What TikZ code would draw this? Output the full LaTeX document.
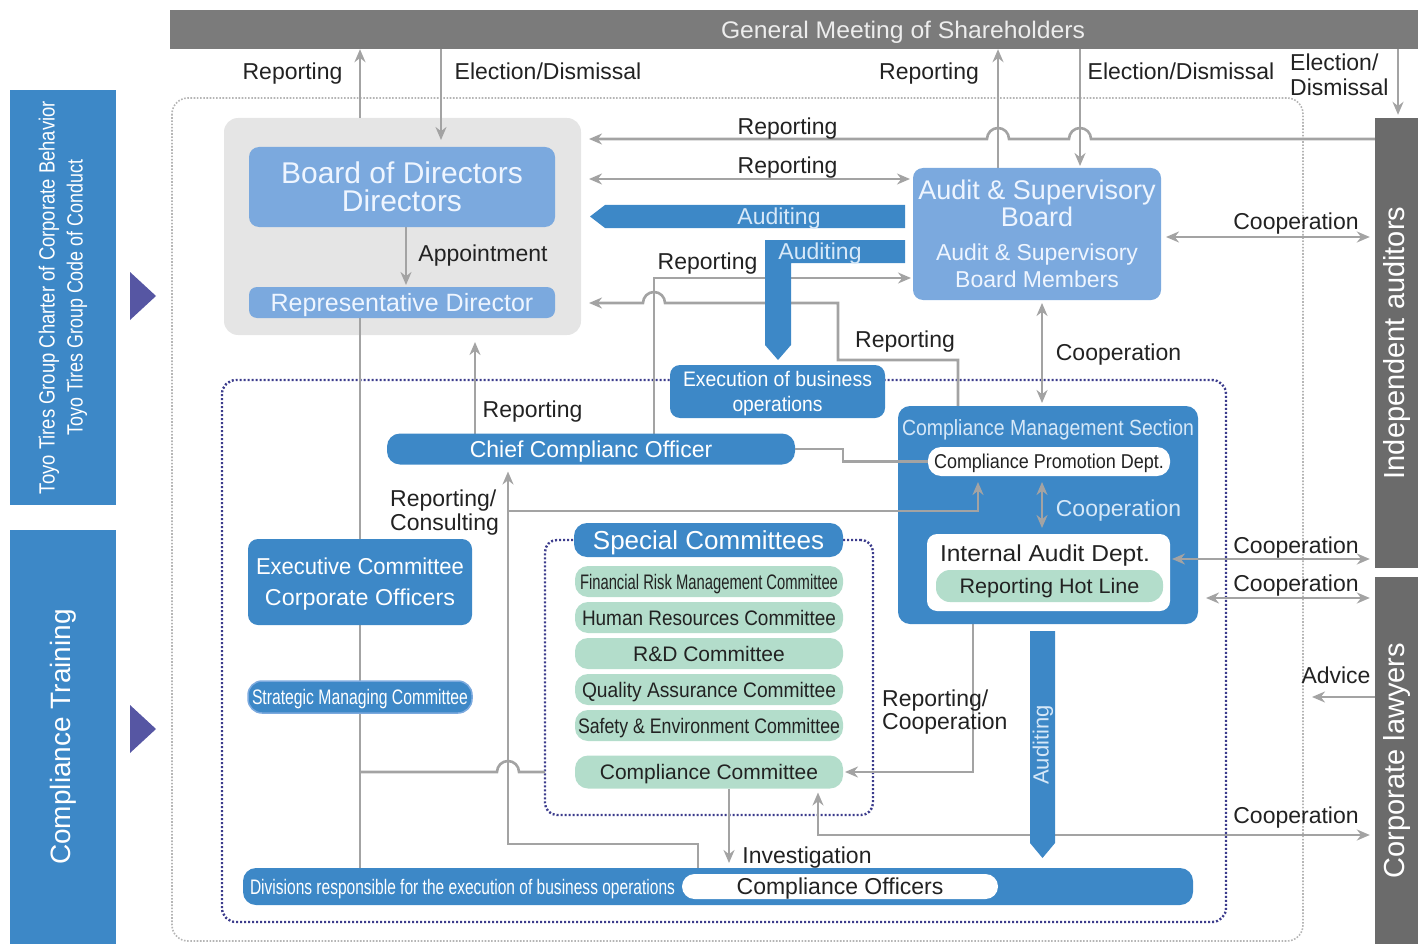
\documentclass[tikz,border=0pt]{standalone}
\usepackage{fontspec}
\setmainfont{Liberation Sans}
\usepackage{graphicx}
\usetikzlibrary{arrows.meta,calc}
\definecolor{mblue}{HTML}{3D88C7}
\definecolor{lblue}{HTML}{7BA9DE}
\definecolor{ltxt}{HTML}{EEF5FF}
\definecolor{atxt}{HTML}{D6E8F8}
\definecolor{grp}{HTML}{E5E5E5}
\definecolor{topg}{HTML}{7B7B7B}
\definecolor{sideg}{HTML}{6B6B6B}
\definecolor{mgreen}{HTML}{B3DDCB}
\definecolor{agray}{HTML}{A3A3A3}
\definecolor{navy}{HTML}{3C3C8C}
\definecolor{trico}{HTML}{5656A3}
\definecolor{txt}{HTML}{222222}
\definecolor{dotg}{HTML}{B5B5B5}
\newcommand{\cw}[2]{\resizebox{#1pt}{\height}{#2}}
\newcommand{\fs}[2]{\fontsize{#1}{#2}\selectfont}
\pgfdeclarelayer{bg}
\pgfdeclarelayer{lines}
\pgfsetlayers{bg,lines,main}
\tikzset{
  box/.style={rectangle,rounded corners=#1,inner sep=0pt,outer sep=0pt},
  box/.default=10pt,
  bluebox/.style={box,fill=mblue,text=white},
  lbox/.style={box,fill=lblue,text=ltxt},
  gbox/.style={box=13pt,fill=mgreen,text=txt,minimum width=268pt,minimum height=31pt,font=\fs{21}{24}},
  lbl/.style={text=txt,font=\fs{23}{25},inner sep=0pt},
  gl/.style={draw=agray,line width=2.6pt},
  ar/.style={gl,-{Stealth[length=13pt,width=11pt]}},
  dar/.style={gl,{Stealth[length=13pt,width=11pt]}-{Stealth[length=13pt,width=11pt]}},
  navydot/.style={draw=navy,line width=2.4pt,dash pattern=on 2pt off 2pt},
}
\begin{document}
\begin{tikzpicture}[x=1pt,y=-1pt,every node/.style={text depth=0pt}]
\useasboundingbox (0,0) rectangle (1418,944);
% helper coordinates
\foreach \xx in {360,406,441,475,508,654,698,729,818,838,843,958,973,978,998,1042,1080,1398}{\coordinate (X\xx) at (\xx,0);}
\foreach \yy in {139,179,237,278,303,360,511,559,598,772,835,844}{\coordinate (Y\yy) at (0,\yy);}

% ---------- background layer ----------
\begin{pgfonlayer}{bg}
\draw[dotg,line width=1.6pt,dash pattern=on 1.6pt off 1.6pt,rounded corners=16pt] (172,98) rectangle (1303,941);
\draw[navydot,rounded corners=14pt] (222,380) rectangle (1226,922);
\node[box=14pt,fill=grp,minimum width=357pt,minimum height=217pt] (boardgrp) at (402.5,226.5) {};
\node[box=12pt,navydot,minimum width=328pt,minimum height=275pt] (spec) at (709,677.5) {};
\end{pgfonlayer}

% ---------- nodes ----------
\node[fill=topg,minimum width=1248pt,minimum height=39pt,text=white!93!black,font=\fs{24}{26},inner sep=0pt] (gms) at (794,29.5) {\hspace*{218pt}\cw{364}{General Meeting of Shareholders}};

\node[fill=mblue,minimum width=106pt,minimum height=415pt,text=white,font=\fs{22}{28},inner sep=0pt] (charter) at (63,297.5) {\rotatebox{90}{\begin{tabular}{@{}c@{}}\cw{393}{Toyo Tires Group Charter of Corporate Behavior}\\\cw{275}{Toyo Tires Group Code of Conduct}\end{tabular}}};
\node[fill=mblue,minimum width=106pt,minimum height=414pt,text=white,font=\fs{28}{30},inner sep=0pt] (training) at (63,737) {\rotatebox{90}{Compliance Training}};
\fill[trico] (130,272) -- (156,296) -- (130,320) -- cycle;
\fill[trico] (130,705) -- (156,729) -- (130,753) -- cycle;

\node[fill=sideg,minimum width=43pt,minimum height=450pt,text=white,font=\fs{29}{30},inner sep=0pt] (indep) at (1396.5,343) {\rotatebox{90}{Independent auditors}};
\node[fill=sideg,minimum width=43pt,minimum height=367pt,text=white,font=\fs{29}{30},inner sep=0pt] (lawyers) at (1396.5,760.5) {\rotatebox{90}{Corporate lawyers}};

\node[lbox,minimum width=306pt,minimum height=80pt,font=\fs{30}{28},align=center] (board) at (402,187) {Board of Directors\\Directors};
\node[lbox,box=8pt,minimum width=306pt,minimum height=31pt,font=\fs{25}{27}] (rep) at (402,302.5) {Representative Director};

\node[lbox,minimum width=248pt,minimum height=132pt,align=center,font=\fs{27}{27}] (asb) at (1037,234) {Audit \& Supervisory\\Board\\[7pt]\fs{23}{25}Audit \& Supervisory\\\fs{23}{25}Board Members};

\node[bluebox,minimum width=215pt,minimum height=53pt,align=center,font=\fs{21}{25}] (exec) at (777.5,391.5) {\cw{189}{Execution of business}\\\cw{90}{operations}};

\node[bluebox,box=13pt,minimum width=408pt,minimum height=31pt,font=\fs{23}{25}] (cco) at (591,449) {Chief Complianc Officer};

\node[bluebox,box=12pt,minimum width=300pt,minimum height=218pt] (cms) at (1048,515) {};
\node[text=atxt,font=\fs{22}{24}] (cmstitle) at (1048,428) {\cw{292}{Compliance Management Section}};
\node[box=13pt,fill=white,text=txt,minimum width=242pt,minimum height=29pt,font=\fs{20}{22}] (cpd) at (1049,461.5) {\cw{230}{Compliance Promotion Dept.}};
\node[box,fill=white,minimum width=243pt,minimum height=77pt] (iad) at (1048.5,572.5) {};
\node[text=txt,font=\fs{23}{25}] (iadtitle) at (1045,553) {\cw{210}{Internal Audit Dept.}};
\node[box=14pt,fill=mgreen,text=txt,minimum width=227pt,minimum height=32pt,font=\fs{21}{23}] (hotline) at (1049.5,586) {\cw{180}{Reporting Hot Line}};
\node[text=atxt,font=\fs{23}{25}] (coopin) at (1118.5,508) {Cooperation};

\node[bluebox,box=13pt,minimum width=269pt,minimum height=34pt,font=\fs{26}{28}] (spechead) at (708.5,540) {Special Committees};
\node[gbox] (frm) at (709,581.5) {\cw{258}{Financial Risk Management Committee}};
\node[gbox] (hr) at (709,617.5) {\cw{254}{Human Resources Committee}};
\node[gbox] (rd) at (709,653.5) {R\&D Committee};
\node[gbox] (qa) at (709,689.5) {\cw{254}{Quality Assurance Committee}};
\node[gbox] (se) at (709,725.5) {\cw{262}{Safety \& Environment Committee}};
\node[gbox,minimum height=33pt] (cc) at (709,772) {Compliance Committee};

\node[bluebox,minimum width=224pt,minimum height=86pt,align=center,font=\fs{23}{31}] (execcom) at (360,582) {\cw{208}{Executive Committee}\\\cw{190}{Corporate Officers}};
\node[bluebox,box=14pt,draw=lblue,line width=1.5pt,minimum width=224pt,minimum height=32pt,font=\fs{21}{23}] (strat) at (360,697) {\cw{216}{Strategic Managing Committee}};

\node[bluebox,box=13pt,minimum width=950pt,minimum height=37pt] (div) at (718,886.5) {};
\node[text=white,font=\fs{21}{23}] (divtxt) at (462.5,886.5) {\cw{425}{Divisions responsible for the execution of business operations}};
\node[box=12.5pt,fill=white,text=txt,minimum width=316pt,minimum height=25pt,font=\fs{23}{25}] (co) at (840,886.5) {Compliance Officers};

% ---------- blue auditing arrows ----------
\fill[mblue] (905,205) -- (605,205) -- (590,216.5) -- (605,228) -- (905,228) -- cycle;
\fill[mblue] (905,240) -- (765,240) -- (765,345) -- (778,360) -- (791,345) -- (791,263) -- (905,263) -- cycle;
\fill[mblue] (1030,631) -- (1055,631) -- (1055,843) -- (1042.5,858) -- (1030,843) -- cycle;
\node[text=atxt,font=\fs{23}{25}] (aud1) at (779,216.5) {Auditing};
\node[text=atxt,font=\fs{23}{25}] (aud2) at (820,251.5) {Auditing};
\node[text=atxt,font=\fs{22}{24}] (aud3) at (1043,745) {\rotatebox{90}{Auditing}};

% ---------- connectors below boxes ----------
\begin{pgfonlayer}{lines}
\draw[gl] (rep.south -| X360) -- (div.north -| X360);
\draw[ar,shorten >=2pt] (cco.north -| X654) -- (X654 |- Y278) -- (asb.west |- Y278);
\draw[ar,shorten >=8pt] (cms.north -| X958) -- (X958 |- Y360) -- (X838 |- Y360) -- (X838 |- Y303) -- (665,303) arc[start angle=0,end angle=-180,radius=11] -- (boardgrp.east |- Y303);
\draw[dar,shorten <=4pt,shorten >=5pt] (cc.south -| X818) -- (X818 |- Y835) -- (lawyers.west |- Y835);
\draw[ar] (boardgrp.north -| X360) -- (gms.south -| X360);
\draw[ar,shorten >=7pt] (gms.south -| X441) -- (board.north -| X441);
\draw[ar] (asb.north -| X998) -- (gms.south -| X998);
\draw[ar,shorten >=2pt] (gms.south -| X1080) -- (asb.north -| X1080);
\draw[ar,shorten >=3pt] (gms.south -| X1398) -- (indep.north -| X1398);
\draw[ar,shorten >=8pt] (indep.west |- Y139) -- (1091,139) arc[start angle=0,end angle=-180,radius=11] -- (1009,139) arc[start angle=0,end angle=-180,radius=11] -- (boardgrp.east |- Y139);
\draw[dar,shorten <=8pt,shorten >=3pt] (boardgrp.east |- Y179) -- (asb.west |- Y179);
\draw[dar,shorten <=3pt,shorten >=3pt] (asb.south -| X1042) -- (cms.north -| X1042);
\draw[dar,shorten <=5pt,shorten >=5pt] (asb.east |- Y237) -- (indep.west |- Y237);
\draw[ar,shorten >=2pt] (board.south -| X406) -- (rep.north -| X406);
\draw[ar,shorten >=7pt] (cco.north -| X475) -- (boardgrp.south -| X475);
\draw[gl] (X360 |- Y772) -- (497,772) arc[start angle=180,end angle=360,radius=11] -- (spec.west |- Y772);
\draw[ar,shorten >=7pt] (div.north -| X698) -- (X698 |- Y844) -- (X508 |- Y844) -- (cco.south -| X508);
\draw[dar,shorten <=8pt,shorten >=5pt] (cms.east |- Y598) -- (lawyers.west |- Y598);
\coordinate (advend) at (1312,697);
\draw[ar] (lawyers.west |- advend) -- (advend);
\draw[ar,shorten >=2pt] (cms.south -| X973) -- (X973 |- cc.east) -- (cc.east);
\draw[ar,shorten >=5pt] (cc.south -| X729) -- (div.north -| X729);
\end{pgfonlayer}

% ---------- connectors over the compliance section ----------
\draw[gl] (cco.east) -- (X843 |- cco.east) -- (X843 |- cpd.west) -- (cpd.west);
\draw[ar,shorten >=6pt] (X508 |- Y511) -- (X978 |- Y511) -- (cpd.south -| X978);
\draw[dar,shorten <=6pt,shorten >=6pt] (cpd.south -| X1042) -- (iad.north -| X1042);
\draw[dar,shorten <=2pt,shorten >=5pt] (iad.east |- Y559) -- (indep.west |- Y559);

% ---------- labels ----------
\node[lbl] (l1) at (292.5,71) {Reporting};
\node[lbl] (l2) at (548,71) {Election/Dismissal};
\node[lbl] (l3) at (929,71) {Reporting};
\node[lbl] (l4) at (1181,71) {Election/Dismissal};
\node[lbl,align=left,anchor=west] (l5) at (1290,74.5) {Election/\\Dismissal};
\node[lbl] (l6) at (787.5,126) {Reporting};
\node[lbl] (l7) at (787.5,165) {Reporting};
\node[lbl] (l8) at (483,253) {Appointment};
\node[lbl] (l9) at (707.5,261) {Reporting};
\node[lbl] (l10) at (905,339) {Reporting};
\node[lbl] (l11) at (1118.5,352) {Cooperation};
\node[lbl] (l12) at (1296,221) {Cooperation};
\node[lbl] (l13) at (532.5,409) {Reporting};
\node[lbl,align=left,anchor=west,font=\fs{23}{24}] (l14) at (390,510) {Reporting/\\Consulting};
\node[lbl] (l15) at (1296,545) {Cooperation};
\node[lbl] (l16) at (1296,583) {Cooperation};
\node[lbl] (l17) at (1336,675) {Advice};
\node[lbl,align=left,anchor=west,font=\fs{23}{23}] (l18) at (882,709.5) {Reporting/\\Cooperation};
\node[lbl] (l19) at (1296,815) {Cooperation};
\node[lbl] (l20) at (807,855) {Investigation};
\end{tikzpicture}
\end{document}
